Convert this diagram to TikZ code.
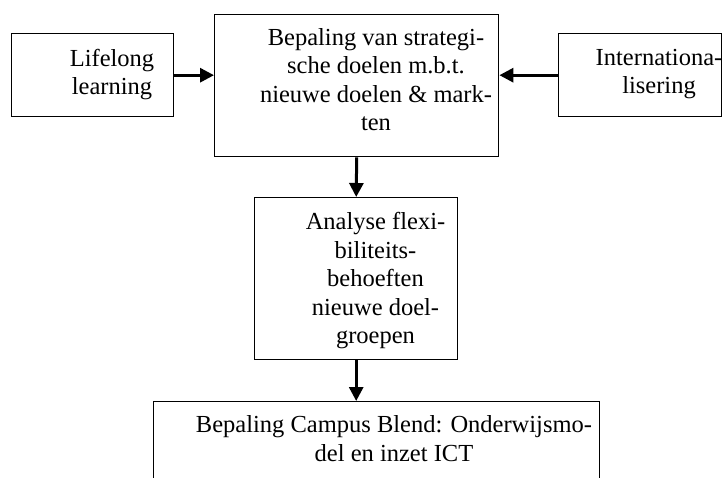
\documentclass[tikz,border=0pt]{standalone}
\usepackage{fontspec}
\setmainfont{Liberation Serif}
\usetikzlibrary{arrows.meta}
\begin{document}
\begin{tikzpicture}[x=1pt,y=-1pt,
  box/.style={draw, line width=1.4pt, rectangle, inner sep=0pt, anchor=north west},
  txt/.style={align=center, inner sep=0pt, anchor=base, font=\fontsize{24.5}{28.5}\selectfont},
  conn/.style={line width=3pt, -{Triangle[length=14pt,width=14pt]}}]
\useasboundingbox (0,0) rectangle (723,478);
\clip (0,0) rectangle (723,478);
\node[box, minimum width=162pt, minimum height=83pt] (life) at (11,33) {};
\node[box, minimum width=284pt, minimum height=142pt] (main) at (214,14) {};
\node[box, minimum width=163pt, minimum height=83pt] (intl) at (558,33) {};
\node[box, minimum width=203pt, minimum height=162pt] (anal) at (254,197) {};
\node[box, minimum width=446pt, minimum height=100pt] (camp) at (153,401) {};
\node[txt] (tlife) at (112,95) {Lifelong\\learning};
\node[txt] (tmain) at (376,131) {Bepaling van strategi-\\sche doelen m.b.t.\\nieuwe doelen \& mark-\\ten};
\node[txt] (tintl) at (659,94) {Internationa-\\lisering};
\node[txt] (tanal) at (375.5,344) {Analyse flexi-\\biliteits-\\behoeften\\nieuwe doel-\\groepen};
\node[txt] (tcamp) at (394,461) {Bepaling Campus Blend: Onderwijsmo-\\del en inzet ICT};
\draw[conn] (life.east) -- (main.west |- life.east);
\draw[conn] (intl.west) -- (main.east |- intl.west);
\draw[conn] (main.south) -- (anal.north);
\draw[conn] (anal.south) -- (anal.south |- camp.north);
\end{tikzpicture}
\end{document}
